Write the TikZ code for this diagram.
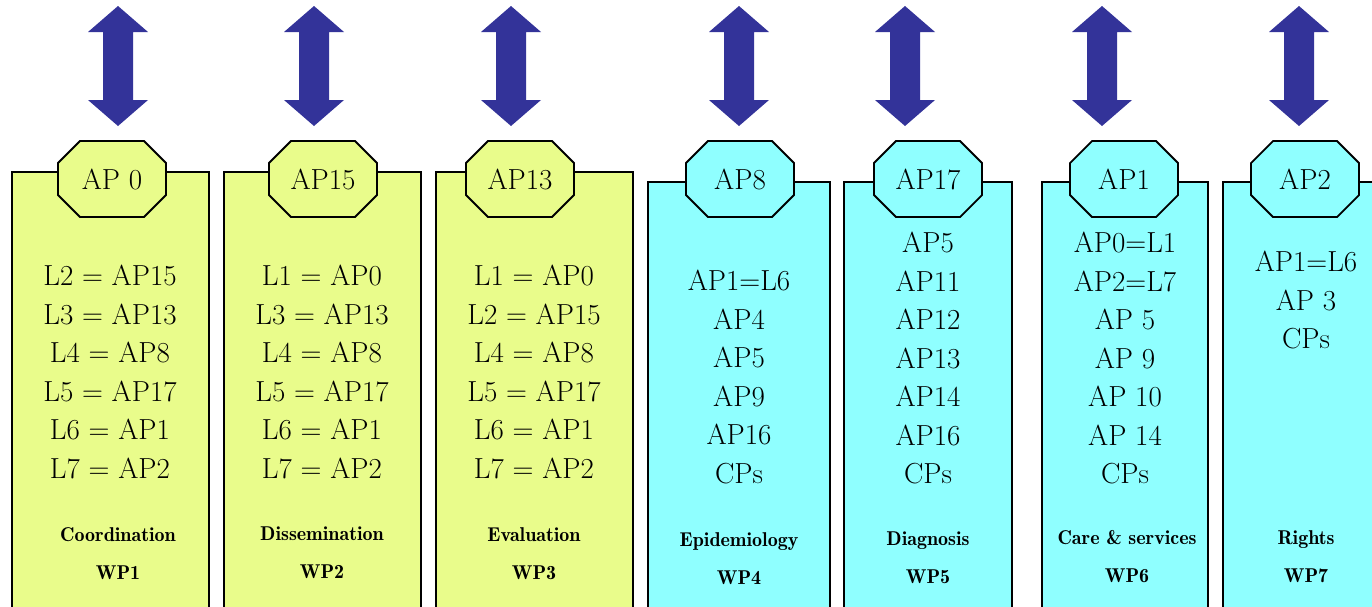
\documentclass[tikz,border=0pt]{standalone}
\definecolor{ylw}{RGB}{233,252,139}
\definecolor{cyn}{RGB}{143,255,255}
\definecolor{arr}{RGB}{51,51,153}
\tikzset{
  boxline/.style={line width=1.8pt, draw=black},
  big/.style={font=\fontsize{29}{38.5}\selectfont, align=center, inner sep=0pt, anchor=north},
  lab/.style={font=\fontsize{20}{38}\fontseries{b}\selectfont, align=center, inner sep=0pt, anchor=north},
  octlbl/.style={font=\fontsize{29}{36}\selectfont, inner sep=0pt},
  arrowfill/.style={fill=arr},
}
\newcommand\wpbox[4]{%
  \fill[#4] (#1,#3) rectangle (#2,620);
  \draw[boxline] (#1,620) -- (#1,#3) -- (#2,#3) -- (#2,620);}
\newcommand\octag[5]{%
  \draw[boxline, fill=#3] ({#1-32},{#2-38}) -- ({#1+32},{#2-38}) -- ({#1+54},{#2-16}) -- ({#1+54},{#2+16}) -- ({#1+32},{#2+38}) -- ({#1-32},{#2+38}) -- ({#1-54},{#2+16}) -- ({#1-54},{#2-16}) -- cycle;
  \node[octlbl] (#4) at (#1,#2) {#5};}
\newcommand\dblarrow[1]{%
  \fill[arrowfill] (#1,6) -- ({#1+30},32) -- ({#1+15},32) -- ({#1+15},100) -- ({#1+30},100) -- (#1,126) -- ({#1-30},100) -- ({#1-15},100) -- ({#1-15},32) -- ({#1-30},32) -- cycle;}
\begin{document}
\begin{tikzpicture}[x=1pt,y=-1pt]
\useasboundingbox (0,0) rectangle (1372,606);
\clip (0,0) rectangle (1372,606);
% arrows
\dblarrow{118}
\dblarrow{314}
\dblarrow{511}
\dblarrow{739}
\dblarrow{905}
\dblarrow{1102}
\dblarrow{1299}
% boxes
\wpbox{12}{209}{172}{ylw}
\wpbox{224}{421}{172}{ylw}
\wpbox{436}{633}{172}{ylw}
\wpbox{648}{830}{182}{cyn}
\wpbox{844}{1012}{182}{cyn}
\wpbox{1042}{1208}{182}{cyn}
\wpbox{1223}{1400}{182}{cyn}
% octagons
\octag{112}{179}{ylw}{ap0}{AP 0}
\octag{323}{179}{ylw}{ap15}{AP15}
\octag{520}{179}{ylw}{ap13}{AP13}
\octag{740}{179}{cyn}{ap8}{AP8}
\octag{928}{179}{cyn}{ap17}{AP17}
\octag{1124}{179}{cyn}{ap1}{AP1}
\octag{1305}{179}{cyn}{ap2}{AP2}
% contents
\node[big] (t1) at (110,265) {L2 = AP15\\L3 = AP13\\L4 = AP8\\L5 = AP17\\L6 = AP1\\L7 = AP2};
\node[big] (t2) at (322,265) {L1 = AP0\\L3 = AP13\\L4 = AP8\\L5 = AP17\\L6 = AP1\\L7 = AP2};
\node[big] (t3) at (534,265) {L1 = AP0\\L2 = AP15\\L4 = AP8\\L5 = AP17\\L6 = AP1\\L7 = AP2};
\node[big] (t4) at (739,270) {AP1=L6\\AP4\\AP5\\AP9\\AP16\\CPs};
\node[big] (t5) at (928,232) {AP5\\AP11\\AP12\\AP13\\AP14\\AP16\\CPs};
\node[big] (t6) at (1125,232) {AP0=L1\\AP2=L7\\AP 5\\AP 9\\AP 10\\AP 14\\CPs};
\node[big] (t7) at (1306,251) {AP1=L6\\AP 3\\CPs};
% labels
\node[lab] (l1) at (118,527) {Coordination\\WP1};
\node[lab] (l2) at (322,527) {Dissemination\\WP2};
\node[lab] (l3) at (534,527) {Evaluation\\WP3};
\node[lab] (l4) at (739,532) {Epidemiology\\WP4};
\node[lab] (l5) at (928,532) {Diagnosis\\WP5};
\node[lab] (l6) at (1127,530) {Care \& services\\WP6};
\node[lab] (l7) at (1306,530) {Rights\\WP7};
\end{tikzpicture}
\end{document}
